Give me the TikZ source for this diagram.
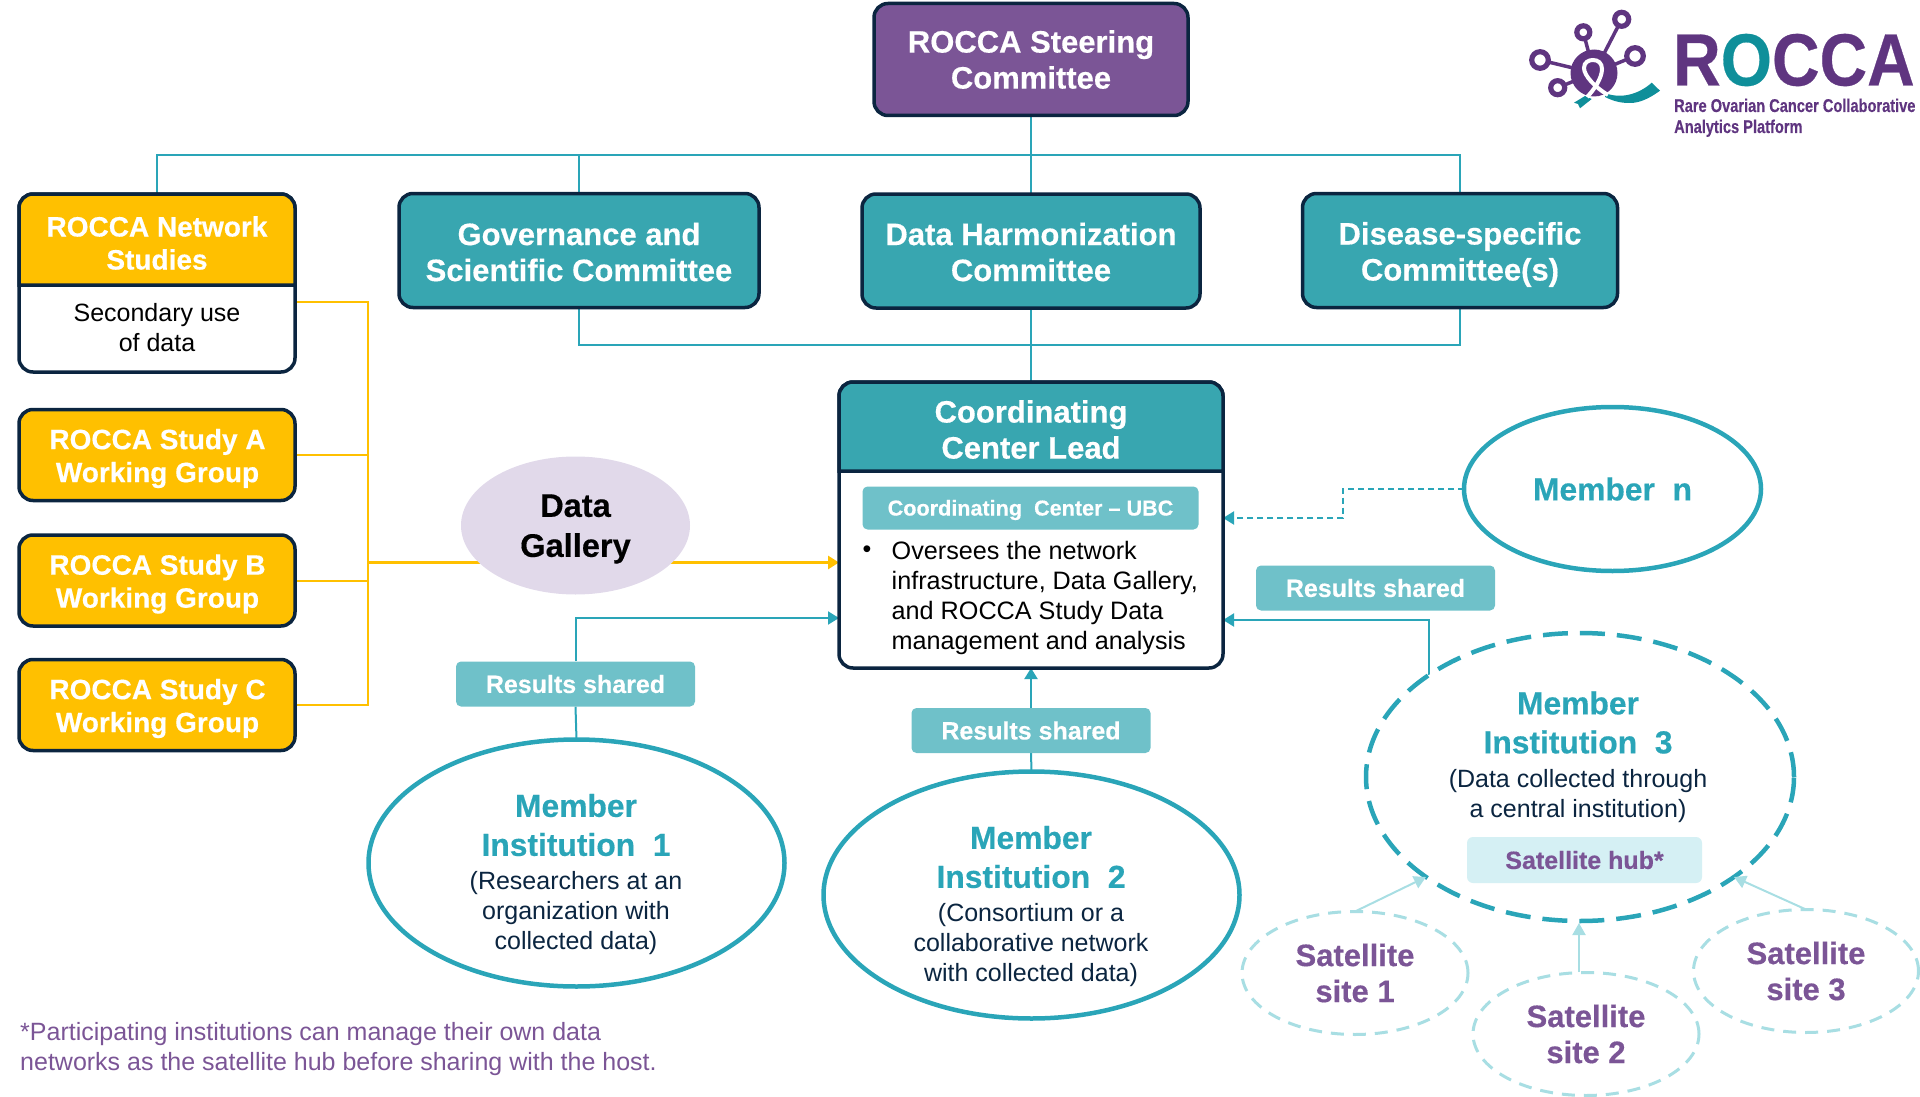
\documentclass[tikz,border=0pt]{standalone}
\usepackage{fontspec}
\setmainfont[BoldFeatures={FakeBold=0.4}]{Liberation Sans}
\usetikzlibrary{arrows.meta,shapes.geometric}
\pgfdeclarelayer{bg}\pgfsetlayers{bg,main}
\definecolor{navy}{HTML}{0B2540}
\definecolor{tealbox}{HTML}{38A6B0}
\definecolor{amber}{HTML}{FFC000}
\definecolor{grape}{HTML}{7B5596}
\definecolor{rsfill}{HTML}{6FC1C9}
\definecolor{hubfill}{HTML}{D5F0F4}
\definecolor{tline}{HTML}{2AA5B8}
\definecolor{tlight}{HTML}{A8DEE3}
\definecolor{gal}{HTML}{E1D9EA}
\definecolor{logop}{HTML}{5F3580}
\definecolor{logot}{HTML}{0F8F9A}
\newcommand{\bigb}{\fontsize{31}{36}\selectfont\bfseries}
\newcommand{\ttlb}{\fontsize{31.8}{36}\selectfont\bfseries}
\newcommand{\midb}{\fontsize{28}{33}\selectfont\bfseries}
\newcommand{\reg}{\fontsize{25}{30}\selectfont}
\newcommand{\regb}{\fontsize{25}{30}\selectfont\bfseries}
\tikzset{
  x=1pt,y=-1pt,
  basebox/.style={draw=navy,line width=3.5pt,rounded corners=14pt,inner sep=0pt,outer sep=0pt,align=center},
  purplebox/.style={basebox,fill=grape,text=white,font=\bigb},
  tealcommittee/.style={basebox,fill=tealbox},
  amberbox/.style={basebox,fill=amber},
  whitebox/.style={basebox,fill=white},
  hdr/.style={draw=navy,line width=3.5pt},
  txt/.style={inner sep=0pt,align=center},
  wb/.style={txt,text=white,font=\bigb},
  wm/.style={txt,text=white,font=\midb},
  tag/.style={fill=rsfill,text=white,rounded corners=5pt,inner sep=0pt,font=\regb,minimum width=239pt,minimum height=45pt},
  member/.style={ellipse,draw=tline,line width=4.5pt,fill=white,inner sep=0pt,outer sep=0pt},
  memberdash/.style={member,dash pattern=on 25pt off 12pt},
  sat/.style={ellipse,draw=tlight,line width=3pt,dash pattern=on 13pt off 9pt,fill=white,inner sep=0pt,outer sep=0pt,minimum width=226pt,minimum height=123pt,text=grape,font=\bigb,align=center},
  tl/.style={draw=tline,line width=2pt},
  tarrow/.style={tl,-{Triangle[length=11pt,width=13pt]}},
  al/.style={draw=amber,line width=2pt},
  satarrow/.style={draw=tlight,line width=2pt,-{Triangle[length=12pt,width=13pt]}},
  ringl/.style={draw=logop,line width=5.2pt,fill=white},
}
\begin{document}
\begin{tikzpicture}
\useasboundingbox (0,0) rectangle (1920,1097);
% top
\node[purplebox,minimum width=314pt,minimum height=112pt] (sc) at (1031,59.5) {ROCCA Steering\\Committee};
\node[tealcommittee,minimum width=360pt,minimum height=114pt] (gov) at (579,250.5) {};
\node[wb] (govt) at (579,252) {Governance and\\Scientific Committee};
\node[tealcommittee,minimum width=338pt,minimum height=114pt] (dh) at (1031,251) {};
\node[wb] (dht) at (1031,252) {Data Harmonization\\Committee};
\node[tealcommittee,minimum width=315pt,minimum height=114pt] (dis) at (1460,250.5) {};
\node[wb] (dist) at (1460,254.5) {Disease-specific\\Committee(s)};
% network studies
\node[whitebox,minimum width=276pt,minimum height=178pt] (ns) at (157,283) {};
\draw[hdr,fill=amber] (ns.west |- 0,285) [rounded corners=14pt] -- (ns.north west) -- (ns.north east) [sharp corners] -- (ns.east |- 0,285) -- cycle;
\node[wm] (nsh) at (157,243) {ROCCA Network\\Studies};
\node[txt,font=\reg] (nsb) at (157,327.5) {Secondary use\\of data};
\node[amberbox,minimum width=276pt,minimum height=91pt] (sa) at (157,455) {};
\node[wm] (sat) at (157.5,458.5) {ROCCA Study A\\Working Group};
\node[amberbox,minimum width=276pt,minimum height=91pt] (sb) at (157,580.5) {};
\node[wm] (sbt) at (157.5,584) {ROCCA Study B\\Working Group};
\node[amberbox,minimum width=276pt,minimum height=91pt] (sc2) at (157,705) {};
\node[wm] (sct) at (157.5,708.5) {ROCCA Study C\\Working Group};
% gallery
\node[ellipse,fill=gal,inner sep=0pt,minimum width=229pt,minimum height=138pt] (dg) at (575.5,525.5) {};
\node[txt,font=\fontsize{32.6}{36}\selectfont\bfseries] (dgt) at (575.5,529) {Data\\[4pt]Gallery};
% coordinating center
\node[whitebox,minimum width=384pt,minimum height=286pt] (cc) at (1031,525) {};
\draw[hdr,fill=tealbox] (cc.west |- 0,471) [rounded corners=14pt] -- (cc.north west) -- (cc.north east) [sharp corners] -- (cc.east |- 0,471) -- cycle;
\node[wb] (cch) at (1031,429.5) {Coordinating\\Center Lead};
\node[fill=rsfill,text=white,rounded corners=5pt,inner sep=0pt,minimum width=336pt,minimum height=43pt] (ubc) at (1030.5,508) {};
\node[txt,text=white,font=\fontsize{21.6}{26}\selectfont\bfseries] (ubct) at (1030.5,510) {Coordinating\ \ Center -- UBC};
\node[inner sep=0pt,font=\reg] (bul) at (867,552) {•};
\node[inner sep=0pt,align=left,anchor=west,font=\fontsize{25.2}{30}\selectfont] (cct) at (891.5,598) {Oversees the network\\infrastructure, Data Gallery,\\and ROCCA Study Data\\management and analysis};
% members
\node[member,minimum width=416pt,minimum height=247pt] (m1) at (576.5,863) {};
\node[member,minimum width=416pt,minimum height=247pt] (m2) at (1031.5,895) {};
\node[memberdash,minimum width=428pt,minimum height=288pt] (m3) at (1580,777) {};
\node[member,minimum width=297pt,minimum height=164pt,text=tline,font=\ttlb] (mn) at (1612.5,489) {Member\ \ n};
\node[txt,text=tline,font=\ttlb] (m1t) at (576,825) {Member\\[3pt]Institution\ \ 1};
\node[txt,text=navy,font=\reg] (m1d) at (576,913) {(Researchers at an\\organization with\\collected data)};
\node[txt,text=tline,font=\ttlb] (m2t) at (1031,857) {Member\\[3pt]Institution\ \ 2};
\node[txt,text=navy,font=\reg] (m2d) at (1031,945) {(Consortium or a\\collaborative network\\with collected data)};
\node[txt,text=tline,font=\ttlb] (m3t) at (1578,722.5) {Member\\[3pt]Institution\ \ 3};
\node[txt,text=navy,font=\reg] (m3d) at (1578,796) {(Data collected through\\a central institution)};
\node[fill=hubfill,text=grape,rounded corners=6pt,inner sep=0pt,minimum width=235pt,minimum height=46pt,font=\regb] (hub) at (1584.5,860) {Satellite hub*};
% tags
\node[tag] (rs1) at (575.5,684) {Results shared};
\node[tag] (rs2) at (1031,730.5) {Results shared};
\node[tag] (rs3) at (1375.5,588) {Results shared};
% satellites
\node[sat] (s1) at (1355,973) {Satellite\\site 1};
\node[sat] (s2) at (1586,1034) {Satellite\\site 2};
\node[sat,minimum width=225pt] (s3) at (1806,971) {Satellite\\site 3};
% footnote
\node[anchor=north west,inner sep=0pt,align=left,text=grape,font=\fontsize{25}{30}\selectfont] (fn) at (20,1022) {*Participating institutions can manage their own data\\networks as the satellite hub before sharing with the host.};
% connector ends
\coordinate (busL) at (157,155);
\coordinate (busR) at (1460,155);
\coordinate (oj) at (367.5,562.5);
\coordinate (ccO) at (cc.west |- 0,562.5);
\coordinate (ccR1) at (cc.west |- 0,618);
\coordinate (ccR3) at (cc.east |- 0,620);
\coordinate (ccN) at (cc.east |- 0,518);
\coordinate (mnb) at (1342.5,489);
\begin{pgfonlayer}{bg}
\draw[tl] (sc.south) -- (dh.north);
\draw[tl] (ns.north) -- (busL) -- (busR) -- (dis.north);
\draw[tl] (gov.north) -- (gov.north |- busL);
\draw[tl] (dh.south) -- (cc.north);
\draw[tl] (gov.south) |- (1031,345) -| (dis.south);
\draw[al] (ns.east |- 0,302) -| (sc2.east -| oj) -- (sc2.east);
\draw[al] (sa.east) -- (sa.east -| oj);
\draw[al] (sb.east) -- (sb.east -| oj);
\draw[draw=amber,line width=3pt,-{Triangle[length=11pt,width=13pt]}] (oj) -- (ccO);
\draw[tl] (m1.north) -- (rs1.south);
\draw[tarrow] (rs1.north) |- (ccR1);
\draw[tl] (m2.north) -- (rs2.south);
\draw[tarrow] (rs2.north) -- (cc.south);
\draw[tarrow] (m3.146.6) |- (ccR3);
\draw[tl,dash pattern=on 6pt off 4pt,-{Triangle[length=11pt,width=13pt]}] (mn.west) -- (mnb) |- (ccN);
\end{pgfonlayer}
\draw[satarrow] (s1.north) -- (m3.213);
\draw[satarrow] (1579,972) -- (1579,923);
\draw[satarrow] (s3.north) -- (m3.327);
% logo
\draw[logop,line width=3.5pt] (1594,73) -- (1621.7,19.3) (1594,73) -- (1583.3,32.3) (1594,73) -- (1635,56) (1594,73) -- (1540,60) (1594,73) -- (1557.7,87.7);
\fill[logop] (1594,73) circle[radius=23.5pt];
\foreach \p/\q/\r in {1621.7/19.3/7,1583.3/32.3/6.5,1635/56/8.3,1540/60/8.3,1557.7/87.7/7}{\draw[ringl] (\p,\q) circle[radius=\r pt];}
\fill[logot] (1585,96) -- (1591.7,99) -- (1580,108.3) -- (1578,104) -- (1574,102.7) -- cycle;
\fill[logot] (1605,93) .. controls (1620,99) and (1638,95) .. (1651.7,82.7) -- (1660,90.7) .. controls (1650,98) and (1640,103) .. (1630,103) .. controls (1622,103) and (1615,102) .. (1605,97) -- cycle;
\draw[white,line width=4pt] (1608,95) .. controls (1596,88) and (1584,76) .. (1584,68) .. controls (1584,62) and (1589,60) .. (1593,60) .. controls (1598,60) and (1602,63) .. (1602,69) .. controls (1602,78) and (1594,90) .. (1587,97);
\node[inner sep=0pt,anchor=base west,font=\fontsize{74}{74}\selectfont\bfseries,text=logop] (lg) at (1673,85.5) {\scalebox{.89}[1]{R\textcolor{logot}{O}CCA}};
\node[inner sep=0pt,anchor=base west,font=\fontsize{18.5}{22}\selectfont\bfseries,text=logop] (lg1) at (1674,112) {\scalebox{.79}[1]{Rare Ovarian Cancer Collaborative}};
\node[inner sep=0pt,anchor=base west,font=\fontsize{18.5}{22}\selectfont\bfseries,text=logop] (lg2) at (1674,133) {\scalebox{.79}[1]{Analytics Platform}};
\end{tikzpicture}
\end{document}
